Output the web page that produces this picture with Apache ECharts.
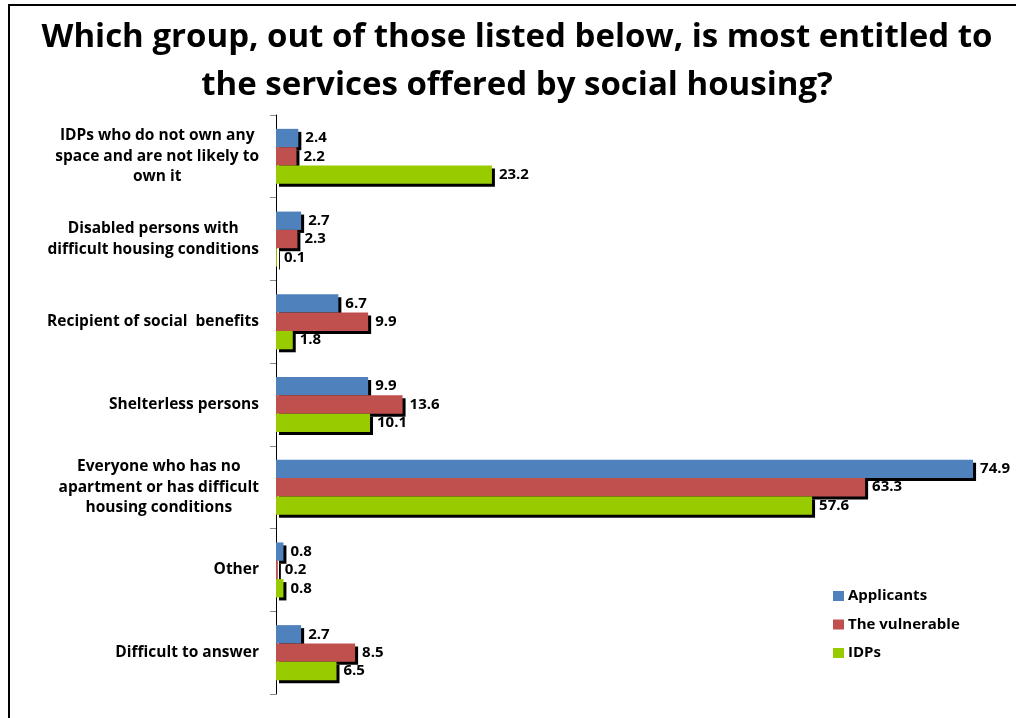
<!DOCTYPE html>
<html>
<head>
<meta charset="utf-8">
<script src="https://cdn.jsdelivr.net/npm/echarts@6/dist/echarts.min.js"></script>
<style>
  html, body { margin: 0; padding: 0; background: #fff; }
  #chart { width: 1016px; height: 718px; }
</style>
</head>
<body>
<div id="chart"></div>
<script>
// Answer options (top to bottom)
const categories = [
  'IDPs who do not own any\nspace and are not likely to\nown it',
  'Disabled persons with\ndifficult housing conditions',
  'Recipient of social  benefits',
  'Shelterless persons',
  'Everyone who has no\napartment or has difficult\nhousing conditions',
  'Other',
  'Difficult to answer'
];

// Shares of respondents, %
const applicants = [2.4, 2.7, 6.7, 9.9, 74.9, 0.8, 2.7];
const vulnerable = [2.2, 2.3, 9.9, 13.6, 63.3, 0.2, 8.5];
const idps       = [23.2, 0.1, 1.8, 10.1, 57.6, 0.8, 6.5];

const seriesNames = ['Applicants', 'The vulnerable', 'IDPs'];
const seriesColors = ['#4F81BD', '#C0504D', '#99CC00'];

const FONT = '"Open Sans", Lato, sans-serif';

function makeSeries(name, data, color) {
  return {
    name: name,
    type: 'bar',
    data: data,
    barGap: '0%',
    barCategoryGap: '33.5%',
    itemStyle: {
      color: color,
      shadowColor: '#000',
      shadowOffsetX: 3,
      shadowOffsetY: 3,
      shadowBlur: 0
    },
    label: {
      show: true,
      position: 'right',
      distance: 7,
      color: '#000',
      fontFamily: FONT,
      fontWeight: 'bold',
      fontSize: 15,
      formatter: p => p.value.toFixed(1)
    },
    emphasis: { disabled: true }
  };
}

const chart = echarts.init(document.getElementById('chart'), null, { renderer: 'canvas' });

chart.setOption({
  animation: false,
  backgroundColor: '#fff',
  title: {
    text: 'Which group, out of those listed below, is most entitled to\nthe services offered by social housing?',
    left: 512,
    top: 9,
    textAlign: 'center',
    textStyle: {
      fontFamily: FONT,
      fontWeight: 'bold',
      fontSize: 33,
      lineHeight: 48,
      color: '#000'
    }
  },
  legend: {
    orient: 'vertical',
    left: 828,
    top: 582,
    itemWidth: 11,
    itemHeight: 10,
    itemGap: 10.5,
    icon: 'rect',
    selectedMode: false,
    data: seriesNames,
    textStyle: {
      fontFamily: FONT,
      fontWeight: 'bold',
      fontSize: 15,
      lineHeight: 18,
      color: '#000',
      padding: [0, 0, 0, -1]
    }
  },
  grid: {
    left: 276,
    right: 42,
    top: 115,
    bottom: 24,
    containLabel: false
  },
  xAxis: {
    type: 'value',
    min: 0,
    max: 75,
    show: false
  },
  yAxis: {
    type: 'category',
    inverse: true,
    data: categories,
    axisLine: { show: true, lineStyle: { color: '#000', width: 1 } },
    axisTick: { show: true, length: 6, lineStyle: { color: '#888' } },
    axisLabel: {
      margin: 17,
      color: '#000',
      fontFamily: FONT,
      fontWeight: 'bold',
      fontSize: 15.5,
      formatter: v => v.split('\n').map(s => '{c|' + s + '}').join('\n'),
      rich: {
        c: {
          align: 'center',
          fontFamily: FONT,
          fontWeight: 'bold',
          fontSize: 15.5,
          lineHeight: 20.5,
          color: '#000'
        }
      }
    }
  },
  graphic: [
    { type: 'line', shape: { x1: 8, y1: 5, x2: 1016, y2: 5 }, style: { stroke: '#000', lineWidth: 2 } },
    { type: 'line', shape: { x1: 9, y1: 4, x2: 9, y2: 718 }, style: { stroke: '#000', lineWidth: 2 } }
  ],
  series: [
    makeSeries(seriesNames[0], applicants, seriesColors[0]),
    makeSeries(seriesNames[1], vulnerable, seriesColors[1]),
    makeSeries(seriesNames[2], idps, seriesColors[2])
  ]
});
</script>
</body>
</html>
